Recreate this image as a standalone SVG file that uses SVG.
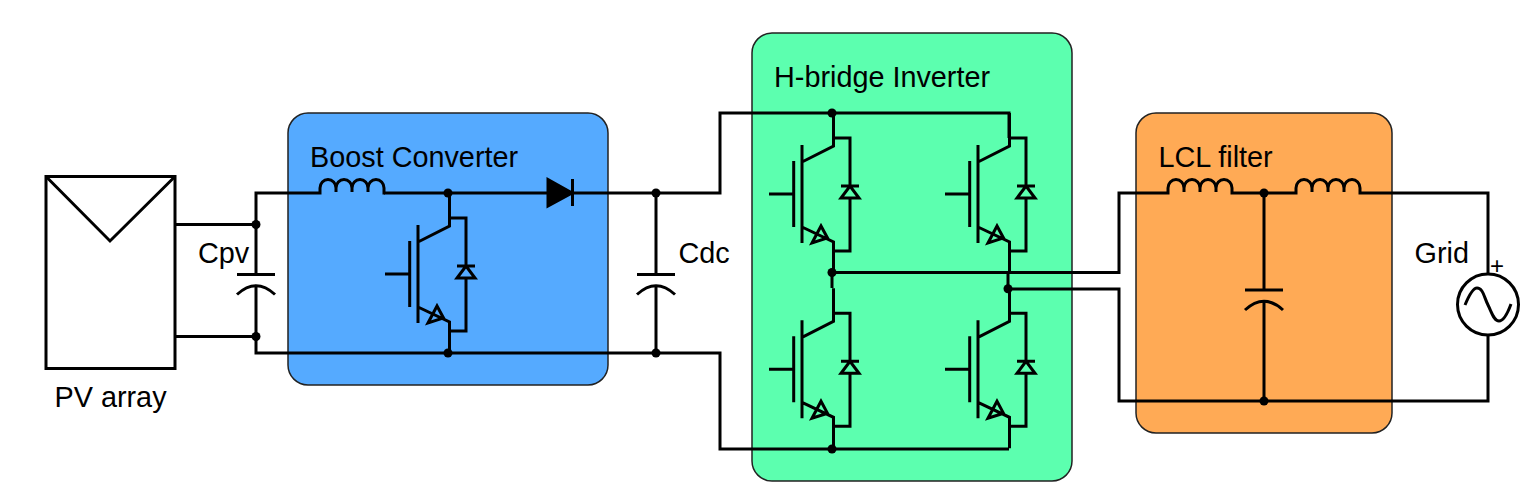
<svg xmlns="http://www.w3.org/2000/svg" width="1536" height="498" viewBox="0 0 1536 498">
<style>
.w{fill:none;stroke:#000;stroke-width:3;stroke-linejoin:miter}
.b{stroke:#222;stroke-width:1.5}
.d{fill:#000}
text{font-family:"Liberation Sans",Arial,sans-serif;font-size:28.8px;fill:#000}
</style>
<defs>
<g id="igbt">
<path class="w" d="M449.500,193V226L418,242M418,225V323M409.700,241V307M385,274H409.700M418,307L449.500,322V353M449.500,218H466V266M466,278V331H449.500M457,266H475M457,278H475L466,266ZM437,306L428,323L443.500,318Z"/>
</g>
<g id="cap">
<path class="w" d="M237,274.500H275M237,294.500Q256,277 275,294.500"/>
</g>
<path id="ind" class="w" d="M0,0H1V-5A8,8.500 0 0 1 17,-5V-1V-5A8,8.500 0 0 1 33,-5V-1V-5A8,8.500 0 0 1 49,-5V-1V-5A8,8.500 0 0 1 65,-5V0H66"/>
</defs>

<g id="boost-converter"><rect class="b" x="288" y="113" width="320" height="272" rx="20" fill="#55AAFF"/><text x="310" y="167">Boost Converter</text></g>
<g id="h-bridge-inverter"><rect class="b" x="752" y="33" width="320" height="448" rx="20" fill="#5CFFAF"/><text x="774" y="87">H-bridge Inverter</text></g>
<g id="lcl-filter"><rect class="b" x="1136" y="113" width="256" height="320" rx="20" fill="#FFAA55"/><text x="1158.500" y="167">LCL filter</text></g>

<g id="connectors">
<path class="w" d="M175,224.500H256M175,336.500H256M256,274.500V193H319M256,287V353H720V449H1009M384,193H548M572,193H720V113H1009V138M656,193V274.500M656,287V353"/>
<path class="w" d="M832,273V288M832,272.500H1119V193H1167M1009,272V273M1008,272V289H1119V401H1488V335M1233,193H1295M1361,193H1488V273M1264,193V290M1264,302V401"/>
<path class="d" d="M548,179.500L572,193L548,206Z"/>
<path class="w" d="M548,179.500L572,193L548,206ZM572.500,179V206"/>
<g class="d">
<circle cx="256" cy="224.500" r="4.500"/><circle cx="256" cy="336.500" r="4.500"/>
<circle cx="448" cy="193" r="4.500"/><circle cx="448" cy="353" r="4.500"/>
<circle cx="656" cy="193" r="4.500"/><circle cx="656" cy="353" r="4.500"/>
<circle cx="832" cy="113" r="4.500"/><circle cx="832" cy="272.500" r="4.500"/><circle cx="832" cy="449" r="4.500"/>
<circle cx="1008" cy="288.700" r="4.500"/>
<circle cx="1264" cy="193" r="4.500"/><circle cx="1264" cy="401" r="4.500"/>
</g>
</g>

<g id="pv-array">
<rect x="46" y="176.500" width="129" height="192" fill="#fff" stroke="#000" stroke-width="3"/>
<path class="w" d="M46,176.500L110,241L175,176.500"/>
<text x="54.500" y="407">PV array</text>
</g>
<g id="cpv"><use href="#cap"/><text x="198" y="263">Cpv</text></g>
<g id="boost-inductor"><use href="#ind" transform="translate(319,193)"/></g>
<g id="boost-switch"><use href="#igbt"/></g>
<g id="cdc"><use href="#cap" transform="translate(400,0)"/><text x="678.500" y="263">Cdc</text></g>
<g id="s1"><use href="#igbt" transform="translate(384,-80)"/></g>
<g id="s2"><use href="#igbt" transform="translate(560,-80)"/></g>
<g id="s3"><use href="#igbt" transform="translate(384,95.300)"/></g>
<g id="s4"><use href="#igbt" transform="translate(560,95.300)"/></g>
<g id="l1"><use href="#ind" transform="translate(1167,193)"/></g>
<g id="l2"><use href="#ind" transform="translate(1295,193)"/></g>
<g id="cf"><use href="#cap" transform="translate(1008,15.500)"/></g>
<g id="grid">
<circle class="w" cx="1488" cy="304.500" r="30.500"/>
<path class="w" d="M1465,305C1470,293 1474,288 1477,288C1483,288 1484,297 1488,305C1492,313 1494,321 1499,321C1503,321 1507,315 1511,304"/>
<text x="1414.500" y="263">Grid</text>
<text x="1490" y="274" style="font-size:24px">+</text>
</g>
</svg>
